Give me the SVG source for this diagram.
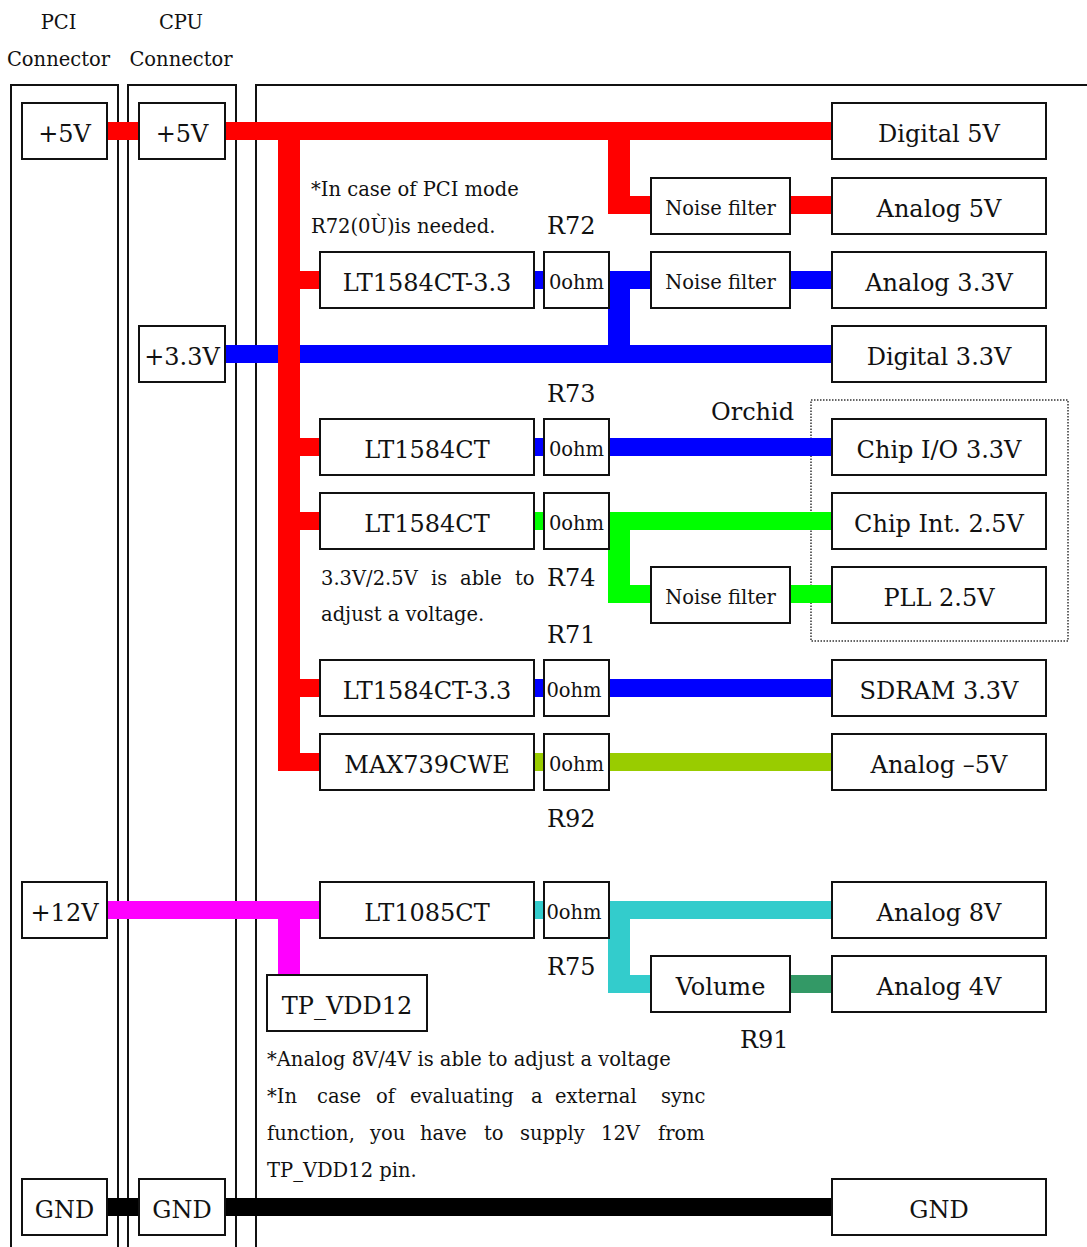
<svg xmlns="http://www.w3.org/2000/svg" width="1087" height="1247" viewBox="0 0 1087 1247">
<style>
text{font-family:"DejaVu Serif","Liberation Serif",serif;fill:#111}
.L{font-size:24px}
.Lc{font-size:24px;text-anchor:middle}
.s{font-size:19.5px}
.sc{font-size:19.5px;text-anchor:middle}
.h{font-size:19.5px;text-anchor:middle}
.box{fill:#fff;stroke:#111;stroke-width:2}
.frame{fill:none;stroke:#111;stroke-width:2}
.r{fill:#ff0000}.b{fill:#0000ff}.g{fill:#00ff00}.o{fill:#99cc00}
.m{fill:#ff00ff}.c{fill:#33cccc}.dg{fill:#339966}.k{fill:#000}
</style>
<rect width="1087" height="1247" fill="#fff"/>
<g id="headers">
<text class="h" x="58.5" y="29">PCI</text>
<text class="h" x="58.5" y="66">Connector</text>
<text class="h" x="181" y="29">CPU</text>
<text class="h" x="181" y="66">Connector</text>
</g>
<g id="frames">
<path class="frame" d="M11,1247 V85 H118 V1247"/>
<path class="frame" d="M128,1247 V85 H236 V1247"/>
<path class="frame" d="M256,1247 V85 H1087"/>
<rect id="orchid-box" x="811" y="400" width="257" height="241" fill="none" stroke="#333" stroke-width="1.5" stroke-dasharray="1.5 1.5"/>
</g>
<g id="connectors">
<!-- blue -->
<rect class="b" x="534" y="271" width="10" height="18"/>
<rect class="b" x="609" y="271" width="42" height="18"/>
<rect class="b" x="608" y="271" width="22" height="92"/>
<rect class="b" x="790" y="271" width="42" height="18"/>
<rect class="b" x="225" y="345" width="607" height="18"/>
<rect class="b" x="534" y="438" width="10" height="18"/>
<rect class="b" x="609" y="438" width="223" height="18"/>
<rect class="b" x="534" y="679" width="10" height="18"/>
<rect class="b" x="609" y="679" width="223" height="18"/>
<!-- red -->
<rect class="r" x="107" y="122" width="32" height="18"/>
<rect class="r" x="225" y="122" width="607" height="18"/>
<rect class="r" x="278" y="122" width="22" height="649"/>
<rect class="r" x="278" y="271" width="42" height="18"/>
<rect class="r" x="278" y="438" width="42" height="18"/>
<rect class="r" x="278" y="512" width="42" height="18"/>
<rect class="r" x="278" y="679" width="42" height="18"/>
<rect class="r" x="278" y="753" width="42" height="18"/>
<rect class="r" x="608" y="122" width="22" height="92"/>
<rect class="r" x="608" y="196" width="43" height="18"/>
<rect class="r" x="790" y="196" width="42" height="18"/>
<!-- green -->
<rect class="g" x="534" y="512" width="10" height="18"/>
<rect class="g" x="609" y="512" width="223" height="18"/>
<rect class="g" x="608" y="512" width="22" height="91"/>
<rect class="g" x="608" y="585" width="43" height="18"/>
<rect class="g" x="790" y="585" width="42" height="18"/>
<!-- olive -->
<rect class="o" x="534" y="753" width="10" height="18"/>
<rect class="o" x="609" y="753" width="223" height="18"/>
<!-- magenta -->
<rect class="m" x="107" y="901" width="213" height="18"/>
<rect class="m" x="278" y="901" width="22" height="74"/>
<!-- cyan -->
<rect class="c" x="534" y="901" width="10" height="18"/>
<rect class="c" x="609" y="901" width="223" height="18"/>
<rect class="c" x="608" y="901" width="22" height="92"/>
<rect class="c" x="608" y="975" width="43" height="18"/>
<rect class="dg" x="790" y="975" width="42" height="18"/>
<!-- ground -->
<rect class="k" x="107" y="1198" width="32" height="18"/>
<rect class="k" x="225" y="1198" width="607" height="18"/>
</g>
<g id="pci-5v"><rect class="box" x="22" y="103" width="85" height="56"/><text class="Lc" x="64.5" y="142">+5V</text></g>
<g id="cpu-5v"><rect class="box" x="139" y="103" width="86" height="56"/><text class="Lc" x="182" y="142">+5V</text></g>
<g id="cpu-3v3"><rect class="box" x="139" y="326" width="86" height="56"/><text class="Lc" x="182" y="365">+3.3V</text></g>
<g id="pci-12v"><rect class="box" x="22" y="882" width="85" height="56"/><text class="Lc" x="64.5" y="921">+12V</text></g>
<g id="pci-gnd"><rect class="box" x="22" y="1179" width="85" height="56"/><text class="Lc" x="64.5" y="1218">GND</text></g>
<g id="cpu-gnd"><rect class="box" x="139" y="1179" width="86" height="56"/><text class="Lc" x="182" y="1218">GND</text></g>

<g id="digital-5v"><rect class="box" x="832" y="103" width="214" height="56"/><text class="Lc" x="939" y="142">Digital 5V</text></g>
<g id="nf1"><rect class="box" x="651" y="178" width="139" height="56"/><text class="sc" x="720.5" y="215">Noise filter</text></g>
<g id="analog-5v"><rect class="box" x="832" y="178" width="214" height="56"/><text class="Lc" x="939" y="217">Analog 5V</text></g>
<g id="lt1584-33a"><rect class="box" x="320" y="252" width="214" height="56"/><text class="Lc" x="427" y="291">LT1584CT-3.3</text></g>
<g id="r72"><rect class="box" x="544" y="252" width="65" height="56"/><text class="sc" x="576.5" y="289">0ohm</text></g>
<g id="nf2"><rect class="box" x="651" y="252" width="139" height="56"/><text class="sc" x="720.5" y="289">Noise filter</text></g>
<g id="analog-3v3"><rect class="box" x="832" y="252" width="214" height="56"/><text class="Lc" x="939" y="291">Analog 3.3V</text></g>
<g id="digital-3v3"><rect class="box" x="832" y="326" width="214" height="56"/><text class="Lc" x="939" y="365">Digital 3.3V</text></g>
<g id="lt1584-a"><rect class="box" x="320" y="419" width="214" height="56"/><text class="Lc" x="427" y="458">LT1584CT</text></g>
<g id="r73"><rect class="box" x="544" y="419" width="65" height="56"/><text class="sc" x="576.5" y="456">0ohm</text></g>
<g id="chip-io"><rect class="box" x="832" y="419" width="214" height="56"/><text class="Lc" x="939" y="458">Chip I/O 3.3V</text></g>
<g id="lt1584-b"><rect class="box" x="320" y="493" width="214" height="56"/><text class="Lc" x="427" y="532">LT1584CT</text></g>
<g id="r74"><rect class="box" x="544" y="493" width="65" height="56"/><text class="sc" x="576.5" y="530">0ohm</text></g>
<g id="chip-int"><rect class="box" x="832" y="493" width="214" height="56"/><text class="Lc" x="939" y="532">Chip Int. 2.5V</text></g>
<g id="nf3"><rect class="box" x="651" y="567" width="139" height="56"/><text class="sc" x="720.5" y="604">Noise filter</text></g>
<g id="pll"><rect class="box" x="832" y="567" width="214" height="56"/><text class="Lc" x="939" y="606">PLL 2.5V</text></g>
<g id="lt1584-33b"><rect class="box" x="320" y="660" width="214" height="56"/><text class="Lc" x="427" y="699">LT1584CT-3.3</text></g>
<g id="r71"><rect class="box" x="544" y="660" width="65" height="56"/><text class="sc" x="574" y="697">0ohm</text></g>
<g id="sdram"><rect class="box" x="832" y="660" width="214" height="56"/><text class="Lc" x="939" y="699">SDRAM 3.3V</text></g>
<g id="max739"><rect class="box" x="320" y="734" width="214" height="56"/><text class="Lc" x="427" y="773">MAX739CWE</text></g>
<g id="r92"><rect class="box" x="544" y="734" width="65" height="56"/><text class="sc" x="576.5" y="771">0ohm</text></g>
<g id="analog-m5v"><rect class="box" x="832" y="734" width="214" height="56"/><text class="Lc" x="939" y="773">Analog –5V</text></g>
<g id="lt1085"><rect class="box" x="320" y="882" width="214" height="56"/><text class="Lc" x="427" y="921">LT1085CT</text></g>
<g id="r75"><rect class="box" x="544" y="882" width="65" height="56"/><text class="sc" x="574" y="919">0ohm</text></g>
<g id="analog-8v"><rect class="box" x="832" y="882" width="214" height="56"/><text class="Lc" x="939" y="921">Analog 8V</text></g>
<g id="volume"><rect class="box" x="651" y="956" width="139" height="56"/><text class="Lc" x="720.5" y="995">Volume</text></g>
<g id="analog-4v"><rect class="box" x="832" y="956" width="214" height="56"/><text class="Lc" x="939" y="995">Analog 4V</text></g>
<g id="tp-vdd12"><rect class="box" x="267" y="975" width="160" height="56"/><text class="Lc" x="347" y="1014">TP_VDD12</text></g>
<g id="gnd"><rect class="box" x="832" y="1179" width="214" height="56"/><text class="Lc" x="939" y="1218">GND</text></g>

<g id="labels">
<text class="L" x="547" y="234">R72</text>
<text class="L" x="547" y="402">R73</text>
<text class="L" x="711" y="420">Orchid</text>
<text class="L" x="547" y="586">R74</text>
<text class="L" x="547" y="643">R71</text>
<text class="L" x="547" y="827">R92</text>
<text class="L" x="547" y="975">R75</text>
<text class="L" x="740" y="1048">R91</text>
</g>
<g id="notes">
<text class="s" x="311" y="196">*In case of PCI mode</text>
<text class="s" x="311" y="233">R72(0Ù)is needed.</text>
<text class="s" y="585"><tspan x="321">3.3V/2.5V</tspan><tspan x="431">is</tspan><tspan x="460">able</tspan><tspan x="515">to</tspan></text>
<text class="s" x="321" y="621">adjust a voltage.</text>
<text class="s" x="267" y="1066">*Analog 8V/4V is able to adjust a voltage</text>
<text class="s" y="1103"><tspan x="267">*In</tspan><tspan x="317">case</tspan><tspan x="376">of</tspan><tspan x="410">evaluating</tspan><tspan x="531">a</tspan><tspan x="555">external</tspan><tspan x="661">sync</tspan></text>
<text class="s" y="1140"><tspan x="267">function,</tspan><tspan x="370">you</tspan><tspan x="420">have</tspan><tspan x="484">to</tspan><tspan x="520">supply</tspan><tspan x="601">12V</tspan><tspan x="658">from</tspan></text>
<text class="s" x="267" y="1177">TP_VDD12 pin.</text>
</g>
</svg>
